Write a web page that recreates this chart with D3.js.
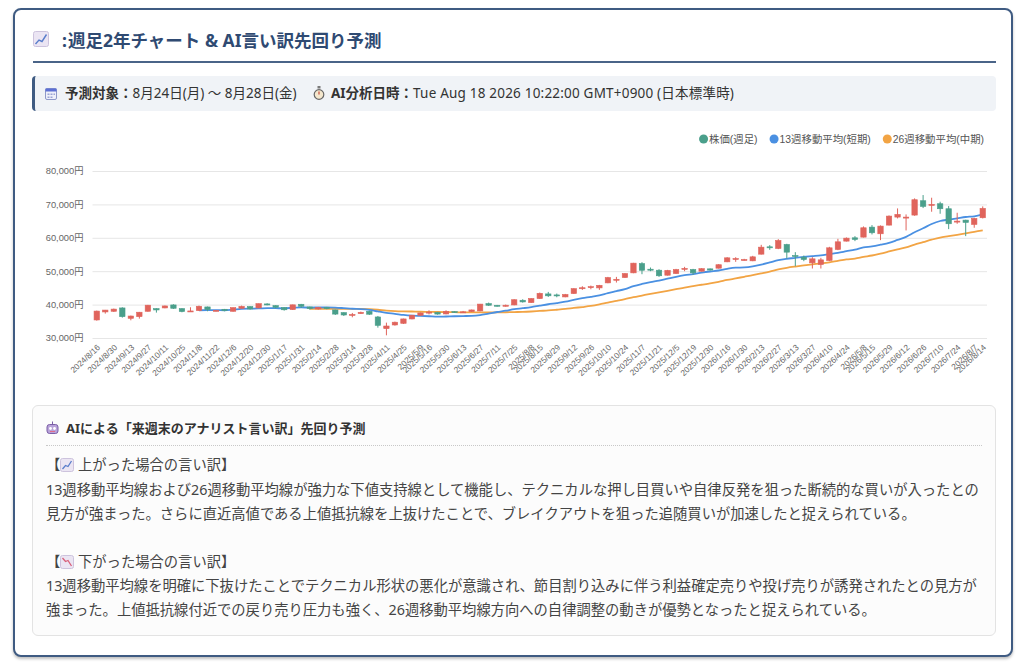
<!DOCTYPE html>
<html lang="ja">
<head>
<meta charset="utf-8">
<title>週足2年チャート & AI言い訳先回り予測</title>
<script src="https://cdn.jsdelivr.net/npm/d3@7"></script>
<style>
  body { margin: 0; background: #fff; font-family: "Noto Sans", "Noto Sans CJK JP", sans-serif; color: #333; }
  .abs { position: absolute; }
  .card { left: 13px; top: 8px; width: 996px; height: 645px; border: 2px solid #3f5b82; border-radius: 8px;
          box-shadow: 0 2px 3px rgba(0, 0, 0, .25); background: #fff; }
  .title { left: 33px; top: 28px; height: 24px; line-height: 24px; font-size: 17.5px; font-weight: bold; color: #2f4a72; white-space: nowrap; }
  .rule { left: 33px; top: 61px; width: 963px; height: 2px; background: #4a6488; }
  .info { left: 32px; top: 76px; width: 961px; height: 35px; background: #f0f3f7; border-left: 3px solid #3f5b82; border-radius: 4px; }
  .info-text { top: 85px; height: 17px; line-height: 17px; font-size: 13.5px; color: #333; white-space: nowrap; }
  .info-text b { font-weight: bold; }
  .ana { left: 32px; top: 405px; width: 962px; height: 229px; border: 1px solid #e3e3e3; border-radius: 6px; background: #fcfcfc; }
  .ana-head { left: 66px; top: 420px; height: 16px; line-height: 16px; font-size: 13px; font-weight: bold; color: #333; white-space: nowrap; }
  .dots { left: 46px; top: 445px; width: 936px; border-top: 1px dotted #c8c8c8; }
  .line { left: 46px; height: 24px; line-height: 24px; font-size: 14.3px; color: #444; white-space: nowrap; }
  .line svg { vertical-align: -2px; }
  #chart { position: absolute; left: 0; top: 0; }
</style>
</head>
<body>
<div class="abs card"></div>

<svg class="abs" style="left:33px;top:31px" width="16" height="16">
  <rect x="0.5" y="0.5" width="15" height="15" rx="2" fill="#ebe5f3" stroke="#cdc3dd"/>
  <polyline points="2.5,13 6,9 9,10.5 13.5,3.5" fill="none" stroke="#5a7ecb" stroke-width="1.4"/>
</svg>
<div class="abs title" style="left:62px">:</div>
<div class="abs title" style="left:68px">週足2年チャート &amp; AI言い訳先回り予測</div>
<div class="abs rule"></div>

<div class="abs info"></div>
<svg class="abs" style="left:45px;top:87px" width="12" height="13">
  <rect x="0.5" y="1.5" width="11" height="11" rx="1.5" fill="#eef0fa" stroke="#8e99c9"/>
  <rect x="0.5" y="1.5" width="11" height="3" fill="#5d70d4"/>
  <g fill="#9aa4d4"><rect x="2.5" y="6.5" width="2" height="1.5"/><rect x="5.5" y="6.5" width="2" height="1.5"/><rect x="8.5" y="6.5" width="1.5" height="1.5"/>
  <rect x="2.5" y="9.5" width="2" height="1.5"/><rect x="5.5" y="9.5" width="2" height="1.5"/></g>
</svg>
<div class="abs info-text" style="left:65px"><b>予測対象：</b>8月24日(月) 〜 8月28日(金)</div>
<svg class="abs" style="left:313px;top:86px" width="12" height="14">
  <rect x="4.5" y="0" width="3" height="2.5" fill="#7a7a7a"/>
  <circle cx="6" cy="8.5" r="4.8" fill="#f4e7cd" stroke="#666" stroke-width="1.2"/>
  <line x1="6" y1="8.5" x2="6" y2="5.5" stroke="#c0392b" stroke-width="1.1"/>
</svg>
<div class="abs info-text" style="left:331px"><b>AI分析日時：</b><span style="letter-spacing:0.2px">Tue Aug 18 2026 10:22:00 GMT+0900 (日本標準時)</span></div>

<div class="abs ana"></div>
<svg class="abs" style="left:46px;top:421px" width="13" height="14">
  <line x1="6.5" y1="0.5" x2="6.5" y2="3.5" stroke="#7b5fa6"/>
  <rect x="1" y="3.5" width="11" height="9" rx="2.5" fill="#b8a2d9" stroke="#7b5fa6"/>
  <circle cx="4.5" cy="7.5" r="1.4" fill="#fff"/><circle cx="8.5" cy="7.5" r="1.4" fill="#fff"/>
  <rect x="4" y="10" width="5" height="1" fill="#e06a8a"/>
</svg>
<div class="abs ana-head">AIによる「来週末のアナリスト言い訳」先回り予測</div>
<div class="abs dots"></div>

<div class="abs line" style="top:453px">【<svg width="14" height="14"><rect x="0.5" y="0.5" width="13" height="13" rx="2" fill="#ebe5f3" stroke="#cdc3dd"/><polyline points="2.5,11 5.5,7.5 8,8.5 11.5,3" fill="none" stroke="#5a7ecb" stroke-width="1.3"/></svg> 上がった場合の言い訳】</div>
<div class="abs line" style="top:478px">13週移動平均線および26週移動平均線が強力な下値支持線として機能し、テクニカルな押し目買いや自律反発を狙った断続的な買いが入ったとの</div>
<div class="abs line" style="top:502px">見方が強まった。さらに直近高値である上値抵抗線を上抜けたことで、ブレイクアウトを狙った追随買いが加速したと捉えられている。</div>
<div class="abs line" style="top:550px">【<svg width="14" height="14"><rect x="0.5" y="0.5" width="13" height="13" rx="2" fill="#ebe5f3" stroke="#cdc3dd"/><polyline points="2.5,3 5.5,6.5 8,5.5 11.5,11" fill="none" stroke="#d9607a" stroke-width="1.3"/></svg> 下がった場合の言い訳】</div>
<div class="abs line" style="top:574px">13週移動平均線を明確に下抜けたことでテクニカル形状の悪化が意識され、節目割り込みに伴う利益確定売りや投げ売りが誘発されたとの見方が</div>
<div class="abs line" style="top:598px">強まった。上値抵抗線付近での戻り売り圧力も強く、26週移動平均線方向への自律調整の動きが優勢となったと捉えられている。</div>

<svg id="chart" width="1024" height="400"></svg>

<script>
// weekly candles (last trading day of each week)
const dates = [
  "2024/8/16","2024/8/23","2024/8/30","2024/9/6","2024/9/13","2024/9/20","2024/9/27","2024/10/4","2024/10/11","2024/10/18",
  "2024/10/25","2024/11/1","2024/11/8","2024/11/15","2024/11/22","2024/11/29","2024/12/6","2024/12/13","2024/12/20","2024/12/27",
  "2024/12/30","2025/1/10","2025/1/17","2025/1/24","2025/1/31","2025/2/7","2025/2/14","2025/2/21","2025/2/28","2025/3/7",
  "2025/3/14","2025/3/21","2025/3/28","2025/4/4","2025/4/11","2025/4/18","2025/4/25","2025/5/2","2025/5/9","2025/5/16",
  "2025/5/23","2025/5/30","2025/6/6","2025/6/13","2025/6/20","2025/6/27","2025/7/4","2025/7/11","2025/7/18","2025/7/25",
  "2025/8/1","2025/8/8","2025/8/15","2025/8/22","2025/8/29","2025/9/5","2025/9/12","2025/9/19","2025/9/26","2025/10/3",
  "2025/10/10","2025/10/17","2025/10/24","2025/10/31","2025/11/7","2025/11/14","2025/11/21","2025/11/28","2025/12/5","2025/12/12",
  "2025/12/19","2025/12/26","2025/12/30","2026/1/9","2026/1/16","2026/1/23","2026/1/30","2026/2/6","2026/2/13","2026/2/20",
  "2026/2/27","2026/3/6","2026/3/13","2026/3/20","2026/3/27","2026/4/3","2026/4/10","2026/4/17","2026/4/24","2026/5/1",
  "2026/5/8","2026/5/15","2026/5/22","2026/5/29","2026/6/5","2026/6/12","2026/6/19","2026/6/26","2026/7/3","2026/7/10",
  "2026/7/17","2026/7/24","2026/7/31","2026/8/7","2026/8/14"
];

const opens = [
  35400,37800,38000,39000,35900,36400,38000,38800,39000,39900,
  38800,37900,38200,39300,38100,38600,38000,38900,39400,39000,
  40200,39700,39100,38500,40100,39300,38700,39200,38400,37600,
  36900,37300,38000,36300,32800,33900,34400,35700,36800,37550,
  37700,37200,37900,37700,37900,38100,40300,39800,39500,39900,
  41300,40600,41800,43200,42900,42300,43300,44900,45100,45000,
  46500,47400,48100,49500,52300,50600,50300,48800,49300,50600,
  50500,50000,50700,50900,52800,53600,53300,53100,55100,57300,
  56800,58000,54700,54200,52500,52000,53200,56500,59000,60000,
  60200,63200,61200,63800,66200,66000,66800,71100,69800,70200,
  68700,64800,65300,64000,66000
];
const highs = [
  38200,38400,38800,39200,36700,37800,39900,38900,39700,40100,
  38900,39200,39700,39400,38400,38700,39100,39700,39500,40300,
  40400,39800,39200,40000,40200,39400,39300,39300,38500,37700,
  37500,37900,38200,36600,34600,34900,35800,36900,37600,38300,
  37800,38300,38000,38100,38500,40200,40600,39900,40000,41600,
  41600,41900,43600,43800,43300,43200,44900,45500,45700,45900,
  48300,48300,49400,52500,52700,51100,50600,50400,50700,51300,
  50700,50900,50800,52100,54200,54200,53700,54600,57900,57800,
  59600,58200,55700,54700,54200,54000,57300,59700,60100,60500,
  63400,63800,63700,66700,68800,67000,71800,72800,72000,70800,
  69500,67500,65400,66000,69400
];
const lows = [
  35200,37300,37800,36100,35300,35800,37900,37600,38900,38700,
  37700,37800,38100,38000,38000,38000,37900,38800,38500,38900,
  39800,38900,38200,38400,39000,38500,38500,38600,36900,36600,
  36200,37200,36900,33100,30800,33700,34200,35600,36600,37050,
  37000,37100,37500,37500,37800,38000,39600,39400,39400,39800,
  40600,40500,41700,42300,42200,42200,43200,44400,44600,44400,
  46400,46600,48000,49400,49100,50000,48300,48700,49200,50000,
  48900,49900,50200,50800,52700,52800,53200,53000,55000,56400,
  56600,53800,51500,53000,50800,50800,53000,56300,58900,59000,
  60100,61000,59300,63700,65800,62200,66600,68900,67800,67200,
  62600,64200,60500,63000,65800
];
const closes = [
  38060,38360,38650,36390,36580,37720,39830,38400,39600,38900,
  37910,38100,39500,38500,38280,38200,39090,39470,38700,40280,
  39890,39190,38450,39930,39500,38790,39150,38780,37160,36890,
  37050,37680,37120,33780,33590,34730,35710,36830,37500,37750,
  37160,37970,37740,37830,38400,40150,39810,39570,39820,41460,
  40800,41820,43380,42630,42720,43020,44770,45050,45360,45770,
  48090,47580,49300,52410,50280,50380,48630,50250,50490,50840,
  49510,50750,50340,51940,54000,53800,53500,54300,57200,57100,
  59200,55700,54400,53500,53700,53400,57000,58800,59900,59500,
  63000,61500,63500,66500,67000,66200,71400,69400,70000,68700,
  64200,65000,64600,65800,68800
];

// x-axis labels as they appear under the chart
const tickDates = [
  "2024/8/16","2024/8/30","2024/9/13","2024/9/27","2024/10/11","2024/10/25","2024/11/8","2024/11/22","2024/12/6","2024/12/20",
  "2024/12/30","2025/1/17","2025/1/31","2025/2/14","2025/2/28","2025/3/14","2025/3/28","2025/4/11","2025/4/25","2025/5/9",
  "2025/5/16","2025/5/30","2025/6/13","2025/6/27","2025/7/11","2025/7/25","2025/8/8","2025/8/15","2025/8/29","2025/9/12",
  "2025/9/26","2025/10/10","2025/10/24","2025/11/7","2025/11/21","2025/12/5","2025/12/19","2025/12/30","2026/1/16","2026/1/30",
  "2026/2/13","2026/2/27","2026/3/13","2026/3/27","2026/4/10","2026/4/24","2026/5/8","2026/5/15","2026/5/29","2026/6/12",
  "2026/6/26","2026/7/10","2026/7/24","2026/8/7","2026/8/14"
];
const yTicks = [30000, 40000, 50000, 60000, 70000, 80000];

const seriesNames = ["株価(週足)", "13週移動平均(短期)", "26週移動平均(中期)"];
const seriesColors = ["#4a9f8b", "#4a90e2", "#f2a444"];
const upColor = "#e0645c", downColor = "#4a9f8b";

const tickFont = "'Liberation Sans', 'Noto Sans CJK JP', sans-serif";

// moving averages of the weekly closes (same definition the chart labels use)
function movingAverage(values, n) {
  return values.map((v, i) => i < n - 1 ? null : d3.mean(values.slice(i - n + 1, i + 1)));
}
const ma13 = movingAverage(closes, 13);
const ma26 = movingAverage(closes, 26);

const plot = {left: 92.5, right: 987, top: 171, bottom: 338};

const svg = d3.select("#chart");

const x = d3.scaleBand()
  .domain(dates)
  .range([plot.left, plot.right])
  .padding(0);
const cx = d => x(d) + x.bandwidth() / 2;

const y = d3.scaleLinear()
  .domain([30000, 80000])
  .range([plot.bottom, plot.top]);

// y axis + horizontal grid
const yAxis = svg.append("g")
  .attr("transform", `translate(${plot.left},0)`)
  .call(d3.axisLeft(y)
    .tickValues(yTicks)
    .tickSize(-(plot.right - plot.left))
    .tickPadding(9)
    .tickFormat(d => d3.format(",")(d) + "円"));
yAxis.select(".domain").remove();
yAxis.selectAll(".tick line").attr("stroke", "#e6e6e6");
yAxis.selectAll(".tick text")
  .attr("fill", "#666")
  .style("font-family", tickFont)
  .style("font-size", "9.3px");

// x axis labels, rotated
const xAxis = svg.append("g")
  .attr("transform", `translate(0,${plot.bottom})`)
  .call(d3.axisBottom(x).tickValues(tickDates).tickSize(0).tickPadding(0));
xAxis.select(".domain").remove();
xAxis.selectAll(".tick text")
  .attr("fill", "#666")
  .style("font-family", tickFont)
  .style("font-size", "8.3px")
  .attr("text-anchor", "end")
  .attr("dy", "0.35em")
  .attr("transform", "translate(2,8) rotate(-43)")
  .attr("y", 0);

// moving average lines
const line = d3.line()
  .defined(d => d[1] != null)
  .x(d => cx(d[0]))
  .y(d => y(d[1]))
  .curve(d3.curveMonotoneX);

[[ma26, seriesColors[2]], [ma13, seriesColors[1]]].forEach(([vals, color]) => {
  svg.append("path")
    .datum(dates.map((d, i) => [d, vals[i]]))
    .attr("fill", "none")
    .attr("stroke", color)
    .attr("stroke-width", 1.8)
    .attr("d", line);
});

// candles
const candles = dates.map((d, i) => ({date: d, o: opens[i], h: highs[i], l: lows[i], c: closes[i]}));
const bodyW = 5.4;
const cg = svg.append("g")
  .selectAll("g")
  .data(candles)
  .join("g")
  .attr("stroke", d => d.c >= d.o ? upColor : downColor)
  .attr("fill", d => d.c >= d.o ? upColor : downColor);

cg.append("line")
  .attr("x1", d => cx(d.date)).attr("x2", d => cx(d.date))
  .attr("y1", d => y(d.h)).attr("y2", d => y(d.l))
  .attr("stroke-width", 1);

cg.append("rect")
  .attr("x", d => cx(d.date) - bodyW / 2)
  .attr("width", bodyW)
  .attr("y", d => y(Math.max(d.o, d.c)))
  .attr("height", d => Math.max(1, Math.abs(y(d.o) - y(d.c))))
  .attr("stroke-width", 0.6);

// legend, right aligned
const legend = svg.append("g").attr("transform", "translate(0,139)");
let lx = 984;
for (let i = seriesNames.length - 1; i >= 0; i--) {
  const t = legend.append("text")
    .attr("y", 0)
    .attr("dy", "0.35em")
    .attr("text-anchor", "end")
    .attr("fill", "#555")
    .style("font-family", tickFont)
    .style("font-size", "10.4px")
    .text(seriesNames[i])
    .attr("x", lx);
  const w = t.node().getComputedTextLength();
  legend.append("circle")
    .attr("cx", lx - w - 5.5)
    .attr("cy", 0)
    .attr("r", 4.5)
    .attr("fill", seriesColors[i]);
  lx = lx - w - 5.5 - 4.5 - 12;
}
</script>
</body>
</html>
